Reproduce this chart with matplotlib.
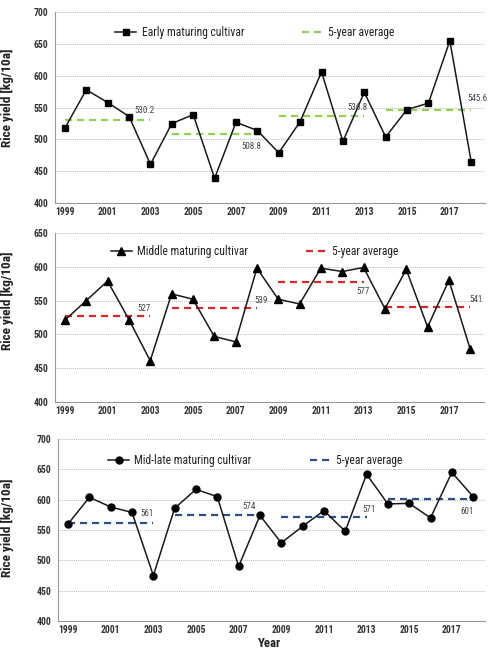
import matplotlib
matplotlib.use("Agg")
import matplotlib.pyplot as plt
from matplotlib.lines import Line2D
from matplotlib import font_manager

# pick a narrow font if one is installed
available = {f.name for f in font_manager.fontManager.ttflist}
font = 'Liberation Sans'
for cand in ['Liberation Sans Narrow', 'Roboto Condensed', 'Open Sans Condensed', 'Liberation Sans']:
    if cand in available:
        font = cand
        break
plt.rcParams['font.family'] = [font, 'DejaVu Sans']

years = list(range(1999, 2019))
early = [518, 578, 558, 536, 461, 525, 539, 439, 527, 514,
         479, 528, 606, 497, 574, 504, 547, 557, 655, 465]
middle = [521, 550, 579, 522, 461, 560, 552, 497, 489, 598,
          552, 545, 598, 593, 599, 538, 596, 511, 580, 478]
midlate = [560, 604, 588, 579, 475, 586, 617, 605, 490, 574,
           529, 556, 582, 548, 642, 593, 594, 570, 645, 605]

blocks = [(1999, 2003), (2004, 2008), (2009, 2013), (2014, 2018)]
early_avg = [530.2, 508.8, 536.8, 545.6]
middle_avg = [527, 539, 577, 541]
midlate_avg = [561, 574, 571, 601]
early_avg_lbl = ["530.2", "508.8", "536.8", "545.6"]
middle_avg_lbl = ["527", "539", "577", "541"]
midlate_avg_lbl = ["561", "574", "571", "601"]

xticks = list(range(1999, 2019, 2))

fig = plt.figure(figsize=(4.9, 6.51), dpi=100)
renderer = fig.canvas.get_renderer()


def fit_size(s, target_px, weight='normal', ref=10.0):
    t = fig.text(0, 0, s, fontsize=ref, fontweight=weight)
    w = t.get_window_extent(renderer).width
    t.remove()
    return ref * target_px / w


tick_fs = fit_size("2007", 19.5, 'bold')
avg_fs = fit_size("530.2", 20)
leg_fs = fit_size("Early maturing cultivar", 102)
ylab_fs = fit_size("Rice yield [kg/10a]", 99, 'bold')
year_fs = fit_size("Year", 23, 'bold')

panels = [
    dict(vals=early, avg=early_avg, lbl=early_avg_lbl, marker='s', ms=5,
         name="Early maturing cultivar", color='#92d050', ylim=(400, 700),
         yticks=range(400, 701, 50),
         pos=[0.112, 0.688, 0.878, 0.2934],
         lbl_off=[(-0.3, 16), (-0.3, -20), (-0.3, 14), (0.3, 18)],
         leg=(0.465, 0.895), ylab=(-0.095, 0.55), xlim=(1998.53, 2018.65)),
    dict(vals=middle, avg=middle_avg, lbl=middle_avg_lbl, marker='^', ms=5.5,
         name="Middle maturing cultivar", color='#d42a2a', ylim=(400, 650),
         yticks=range(400, 651, 50),
         pos=[0.112, 0.3825, 0.876, 0.2596],
         lbl_off=[(-0.3, 11), (0.2, 11), (0.0, -13), (0.25, 11)],
         leg=(0.465, 0.893), ylab=(-0.095, 0.60), xlim=(1998.53, 2018.65)),
    dict(vals=midlate, avg=midlate_avg, lbl=midlate_avg_lbl, marker='o', ms=5,
         name="Mid-late maturing cultivar", color='#2f4f86', ylim=(400, 700),
         yticks=range(400, 701, 50),
         pos=[0.118, 0.046, 0.872, 0.2796],
         lbl_off=[(-0.3, 17), (-0.5, 15), (0.1, 13), (-0.3, -21)],
         leg=(0.462, 0.881), ylab=(-0.103, 0.51), xlim=(1998.52, 2018.56)),
]

tick_color = '#333333'

for i, p in enumerate(panels):
    ax = fig.add_axes(p['pos'])
    ax.plot(years, p['vals'], color='#1a1a1a', lw=1.1, marker=p['marker'],
            ms=p['ms'], mfc='black', mec='black', zorder=3)
    for (s, e), a, t, (dx, dy) in zip(blocks, p['avg'], p['lbl'], p['lbl_off']):
        ax.plot([s, e], [a, a], color=p['color'], lw=1.6, dashes=(3.2, 2.2), zorder=2)
        ax.text(e + dx, a + dy, t, fontsize=avg_fs, color='#444444',
                ha='center', va='center', zorder=4)
    ax.set_xlim(*p['xlim'])
    ax.set_ylim(*p['ylim'])
    ax.set_yticks(list(p['yticks']))
    ax.set_xticks(xticks)
    ax.grid(axis='y', color='#bbbbbb', lw=0.7, ls=(0, (1, 1)))
    ax.set_axisbelow(True)
    for sp in ['top', 'right']:
        ax.spines[sp].set_visible(False)
    for sp in ['left', 'bottom']:
        ax.spines[sp].set_color('#999999')
        ax.spines[sp].set_linewidth(0.8)
    ax.tick_params(length=0, labelsize=tick_fs, colors=tick_color)
    ax.tick_params(axis='x', pad=3)
    ax.tick_params(axis='y', pad=5)
    for lab in ax.get_xticklabels() + ax.get_yticklabels():
        lab.set_fontweight('bold')
    ax.set_ylabel("Rice yield [kg/10a]", fontsize=ylab_fs, fontweight='bold', color='#222222')
    ax.yaxis.set_label_coords(*p['ylab'])
    handles = [Line2D([0], [0], color='#1a1a1a', lw=1.1, marker=p['marker'],
                      ms=p['ms'], mfc='black', mec='black'),
               Line2D([0], [0], color=p['color'], lw=1.6, dashes=(3.2, 2.2))]
    ax.legend(handles, [p['name'], "5-year average"], loc='center',
              bbox_to_anchor=p['leg'], ncol=2, frameon=False, fontsize=leg_fs,
              handlelength=1.8, handletextpad=0.45, columnspacing=5.0,
              labelcolor='#222222')

fig.text(270 / 490, 1 - 637 / 651, "Year", fontsize=year_fs, fontweight='bold',
         color='#222222', ha='center', va='top')

fig.savefig("out.png", dpi=100)
